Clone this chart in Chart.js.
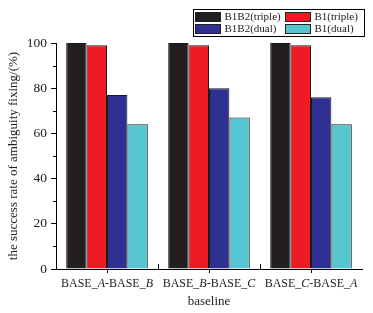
<!DOCTYPE html>
<html>
<head>
<meta charset="utf-8">
<script src="https://cdn.jsdelivr.net/npm/chart.js@4"></script>
<style>
  html, body { margin: 0; padding: 0; background: #fff; }
  #wrap { width: 373px; height: 313px; }
</style>
</head>
<body>
<div id="wrap"><canvas id="chart"></canvas></div>
<script>
const categories = [['BASE_', 'A', '-BASE_', 'B'], ['BASE_', 'B', '-BASE_', 'C'], ['BASE_', 'C', '-BASE_', 'A']];
const seriesNames = ['B1B2(triple)', 'B1(triple)', 'B1B2(dual)', 'B1(dual)'];
const b1b2Triple = [100, 100, 100];
const b1Triple = [99, 99, 99];
const b1b2Dual = [77, 80, 76];
const b1Dual = [64, 67, 64];
const colors = ['#231f20', '#ed1c24', '#2e3192', '#56c5d0'];

const serif = "'Liberation Serif', 'DejaVu Serif', serif";

// legend box + italic category labels + minor ticks
const extras = {
  id: 'extras',
  afterDraw(chart) {
    const ctx = chart.ctx;
    const x = chart.scales.x, y = chart.scales.y;
    ctx.save();
    ctx.strokeStyle = '#000';
    ctx.lineWidth = 1;

    // minor y ticks
    for (let v = 10; v < 100; v += 20) {
      const py = Math.round(y.getPixelForValue(v)) + 0.5;
      ctx.beginPath();
      ctx.moveTo(x.left - 3, py);
      ctx.lineTo(x.left, py);
      ctx.stroke();
    }
    // inner ticks between categories
    for (let i = 0; i < categories.length - 1; i++) {
      const px = Math.round((x.getPixelForTick(i) + x.getPixelForTick(i + 1)) / 2) + 0.5;
      ctx.beginPath();
      ctx.moveTo(px, y.bottom);
      ctx.lineTo(px, y.bottom - 5);
      ctx.stroke();
    }

    // category labels with italic letters
    ctx.fillStyle = '#222';
    ctx.textBaseline = 'middle';
    ctx.textAlign = 'left';
    categories.forEach((parts, i) => {
      const fonts = parts.map((p, k) => (k % 2 ? 'italic ' : '') + '12px ' + serif);
      let total = 0;
      parts.forEach((p, k) => { ctx.font = fonts[k]; total += ctx.measureText(p).width; });
      let cx = x.getPixelForTick(i) - total / 2;
      parts.forEach((p, k) => {
        ctx.font = fonts[k];
        ctx.fillText(p, cx, y.bottom + 15);
        cx += ctx.measureText(p).width;
      });
    });
    ctx.textAlign = 'center';
    ctx.font = '13px ' + serif;
    ctx.fillText('baseline', (x.left + x.right) / 2, y.bottom + 33);

    // legend
    const bx = 193.5, by = 9.5, bw = 171, bh = 27;
    ctx.fillStyle = '#fff';
    ctx.fillRect(bx, by, bw, bh);
    ctx.strokeRect(bx, by, bw, bh);
    ctx.font = '11px ' + serif;
    ctx.textAlign = 'left';
    chart.data.datasets.forEach((ds, i) => {
      const col = i % 2, row = Math.floor(i / 2);
      const sx = bx + 2 + col * 90, sy = by + 3 + row * 12;
      ctx.fillStyle = ds.backgroundColor;
      ctx.fillRect(sx, sy, 25, 9);
      ctx.strokeStyle = '#222';
      ctx.strokeRect(sx, sy, 25, 9);
      ctx.fillStyle = '#222';
      ctx.fillText(ds.label, sx + 29, sy + 5);
    });
    ctx.restore();
  }
};

const datasets = [b1b2Triple, b1Triple, b1b2Dual, b1Dual].map((d, i) => ({
  label: seriesNames[i],
  data: d,
  backgroundColor: colors[i],
  borderColor: '#1a1a1a',
  borderWidth: 1,
  categoryPercentage: 0.8,
  barPercentage: 1.0
}));

new Chart(document.getElementById('chart'), {
  type: 'bar',
  data: { labels: categories.map(c => c.join('')), datasets: datasets },
  options: {
    responsive: true,
    maintainAspectRatio: false,
    animation: false,
    layout: { padding: { top: 43, right: 11, left: 4, bottom: 0 } },
    plugins: { legend: { display: false }, tooltip: { enabled: false } },
    scales: {
      x: {
        grid: { display: true, drawOnChartArea: false, offset: false, tickLength: 4, color: '#000' },
        border: { display: true, color: '#000', width: 1 },
        ticks: { display: false },
        afterFit(scale) { scale.height = 44; }
      },
      y: {
        min: 0,
        max: 100,
        ticks: { stepSize: 20, color: '#222', font: { family: serif, size: 13.5 }, padding: 4 },
        grid: { display: true, drawOnChartArea: false, tickLength: 5, color: '#000' },
        border: { display: true, color: '#000', width: 1 },
        title: { display: true, text: 'the success rate of ambiguity fixing/(%)', color: '#222', font: { family: serif, size: 13 }, padding: 2 },
        afterFit(scale) { scale.width = 52; }
      }
    }
  },
  plugins: [extras]
});
</script>
</body>
</html>
